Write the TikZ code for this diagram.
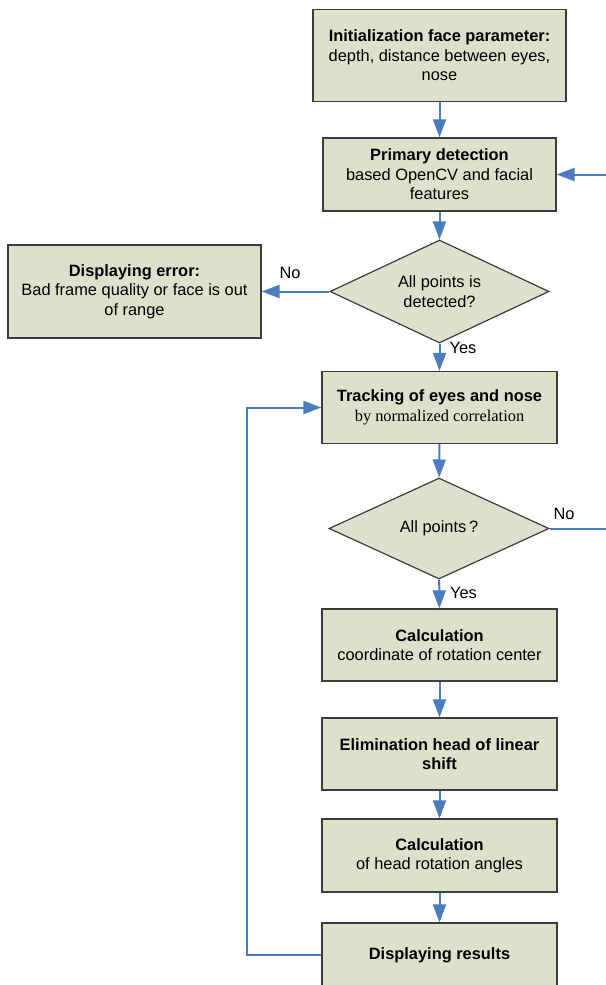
\documentclass[tikz,border=0pt]{standalone}
\usepackage{fontspec}
\setmainfont{Liberation Sans}
\newfontfamily\timesf{Liberation Serif}
\usetikzlibrary{shapes.geometric,arrows.meta}
\definecolor{boxfill}{RGB}{221,225,204}
\definecolor{boxline}{RGB}{60,60,60}
\definecolor{arrblue}{RGB}{74,124,192}
\tikzset{
  procbox/.style={rectangle, draw=boxline, fill=boxfill, line width=1.2pt, align=center, inner sep=0pt, font=\fontsize{16.4}{19.5}\selectfont},
  decbox/.style={diamond, aspect=2.13, draw=boxline, fill=boxfill, line width=1.2pt, align=center, inner sep=0pt, font=\fontsize{16.4}{19.5}\selectfont},
  arr/.style={draw=arrblue, line width=2pt, -{Triangle[length=18pt,width=13pt]}},
  lbl/.style={font=\fontsize{16.4}{19.5}\selectfont, inner sep=0pt}
}
\begin{document}
\begin{tikzpicture}[x=1pt,y=-1pt]
\useasboundingbox (0,0) rectangle (605,985);
\node[procbox, minimum width=253pt, minimum height=92pt] (init) at (439.5,55.5)
  {\textbf{Initialization face parameter:}\\depth, distance between eyes,\\nose};
\node[procbox, minimum width=233pt, minimum height=73pt] (prim) at (439.5,174.5)
  {\textbf{Primary detection}\\based OpenCV and facial\\features};
\node[decbox, minimum width=219pt, minimum height=103pt] (d1) at (439.5,291.5)
  {All points is\\detected?};
\node[procbox, minimum width=253pt, minimum height=93pt] (err) at (134.5,291.5)
  {\textbf{Displaying error:}\\Bad frame quality or face is out\\of range};
\node[procbox, minimum width=235pt, minimum height=72pt] (track) at (439.5,407.5)
  {\textbf{Tracking of eyes and nose}\\{\timesf by normalized correlation}};
\node[decbox, minimum width=220pt, minimum height=101pt] (d2) at (439,528.5)
  {All points\,?};
\node[procbox, minimum width=235pt, minimum height=72pt] (calc1) at (439.5,645)
  {\textbf{Calculation}\\coordinate of rotation center};
\node[procbox, minimum width=235pt, minimum height=72pt] (elim) at (439.5,754)
  {\textbf{Elimination head of linear}\\\textbf{shift}};
\node[procbox, minimum width=235pt, minimum height=73pt] (calc2) at (439.5,855.5)
  {\textbf{Calculation}\\of head rotation angles};
\node[procbox, minimum width=235pt, minimum height=64pt] (disp) at (439.5,955)
  {\textbf{Displaying results}};

\node[lbl] (no1) at (290,273) {No};
\node[lbl] (yes1) at (463,348) {Yes};
\node[lbl] (no2) at (564,514) {No};
\node[lbl] (yes2) at (463.5,593) {Yes};

\coordinate (rb) at (612,528.5);
\coordinate (rt) at (612,174.5);
\coordinate (lb) at (247,955);

\draw[arr] (init) -- (prim);
\draw[arr] (prim) -- (d1);
\draw[arr] (d1) -- (err);
\draw[arr] (d1) -- (track);
\draw[arr] (track) -- (d2);
\draw[arr] (d2) -- (calc1);
\draw[arr] (calc1) -- (elim);
\draw[arr] (elim) -- (calc2);
\draw[arr] (calc2) -- (disp);
\draw[arr] (d2.east) -- (rb) -- (rt) -- (prim.east);
\draw[arr] (disp.west) -- (lb) |- (track.west);
\end{tikzpicture}
\end{document}
